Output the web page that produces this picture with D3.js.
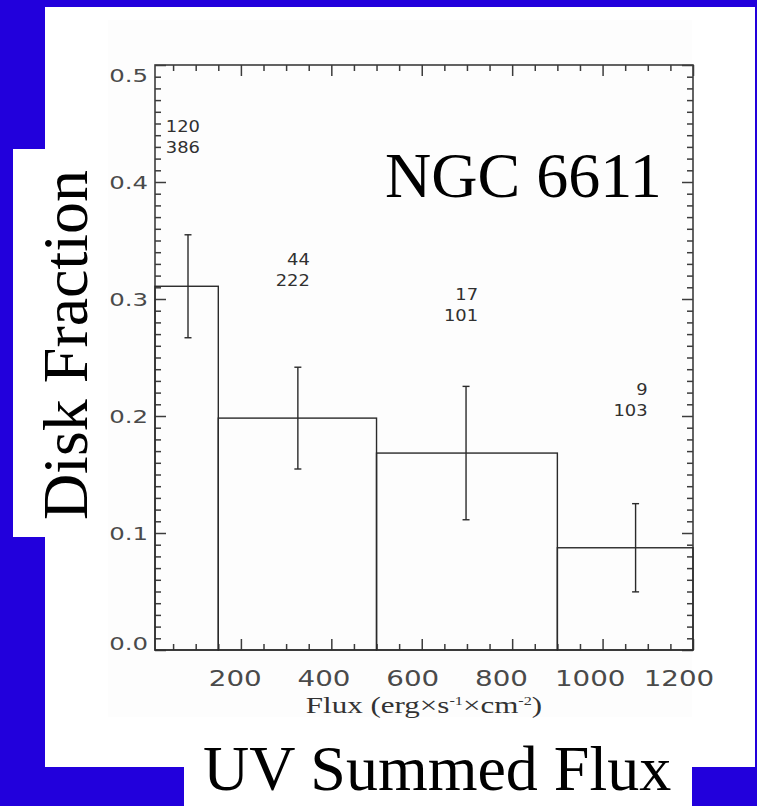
<!DOCTYPE html>
<html>
<head>
<meta charset="utf-8">
<script src="https://cdn.jsdelivr.net/npm/d3@7"></script>
<style>
  html, body { margin: 0; padding: 0; background: #2200dc; }
  svg { display: block; }
</style>
</head>
<body>
<svg id="chart" width="757" height="806"></svg>
<script>
// Flux bins (erg s^-1 cm^-2) and disk counts per bin
const binLo = [10, 150, 500, 900];
const binHi = [150, 500, 900, 1200];
const diskCounts = [120, 44, 17, 9];
const totalCounts = [386, 222, 101, 103];
const meanFlux = [83, 326, 698, 1073];
const fracErr = [0.044, 0.0435, 0.057, 0.0377];
// height (in disk-fraction units) of the count annotations above each bin
const annotLevel = [0.443, 0.329, 0.299, 0.218];

const xMajor = [200, 400, 600, 800, 1000, 1200];
const yMajor = [0.0, 0.1, 0.2, 0.3, 0.4, 0.5];

const fraction = diskCounts.map((d, i) => d / totalCounts[i]);

const svg = d3.select("#chart");
const W = 757, H = 806;

// slide background and panels
svg.append("rect").attr("width", W).attr("height", H).attr("fill", "#2200dc");
svg.append("rect").attr("x", 45).attr("y", 7).attr("width", 710).attr("height", 760).attr("fill", "#ffffff");
svg.append("rect").attr("x", 108).attr("y", 20).attr("width", 584).attr("height", 697).attr("fill", "#fdfdfd");
svg.append("rect").attr("x", 13).attr("y", 149).attr("width", 95).attr("height", 388).attr("fill", "#ffffff");
svg.append("rect").attr("x", 184).attr("y", 717).attr("width", 508).attr("height", 89).attr("fill", "#ffffff");

const pLeft = 155, pRight = 693, pTop = 65, pBottom = 650;
const x = d3.scaleLinear().domain([10, 1200]).range([pLeft, pRight]);
const y = d3.scaleLinear().domain([0, 0.5]).range([pBottom, pTop]);

const axisColor = "#3c3c3c";
const plot = svg.append("g");

const xMinor = d3.range(50, 1200, 50).filter(v => !xMajor.includes(v));
const yMinor = d3.range(1, 50).map(v => v / 100).filter(v => Math.round(v * 100) % 10 !== 0);

function styleAxis(g) {
  g.select(".domain").remove();
  g.selectAll("line").attr("stroke", axisColor).attr("stroke-width", 1.5);
  g.selectAll("text").remove();
}

// inward ticks on all four sides
plot.append("g").attr("transform", `translate(0,${pBottom})`)
  .call(d3.axisBottom(x).tickValues(xMinor).tickSize(-6).tickFormat("")).call(styleAxis);
plot.append("g").attr("transform", `translate(0,${pBottom})`)
  .call(d3.axisBottom(x).tickValues(xMajor).tickSize(-11).tickFormat("")).call(styleAxis);
plot.append("g").attr("transform", `translate(0,${pTop})`)
  .call(d3.axisTop(x).tickValues(xMinor).tickSize(-6).tickFormat("")).call(styleAxis);
plot.append("g").attr("transform", `translate(0,${pTop})`)
  .call(d3.axisTop(x).tickValues(xMajor).tickSize(-11).tickFormat("")).call(styleAxis);
plot.append("g").attr("transform", `translate(${pLeft},0)`)
  .call(d3.axisLeft(y).tickValues(yMinor).tickSize(-6).tickFormat("")).call(styleAxis);
plot.append("g").attr("transform", `translate(${pLeft},0)`)
  .call(d3.axisLeft(y).tickValues(yMajor).tickSize(-11).tickFormat("")).call(styleAxis);
plot.append("g").attr("transform", `translate(${pRight},0)`)
  .call(d3.axisRight(y).tickValues(yMinor).tickSize(-6).tickFormat("")).call(styleAxis);
plot.append("g").attr("transform", `translate(${pRight},0)`)
  .call(d3.axisRight(y).tickValues(yMajor).tickSize(-11).tickFormat("")).call(styleAxis);

// frame
plot.append("rect").attr("x", pLeft).attr("y", pTop)
  .attr("width", pRight - pLeft).attr("height", pBottom - pTop)
  .attr("fill", "none").attr("stroke", axisColor).attr("stroke-width", 1.6);

// tick labels (the plot's lettering is wide, so it is stretched horizontally)
const stretch = 1.32;
plot.append("g").selectAll("text").data(xMajor).join("text")
  .attr("transform", v => `translate(${x(v) - (4 + v / 120)},686) scale(${stretch},1)`)
  .attr("text-anchor", "middle")
  .attr("font-family", "DejaVu Sans")
  .attr("font-size", 21)
  .attr("fill", "#4a4a4a")
  .text(v => v);

plot.append("g").selectAll("text").data(yMajor).join("text")
  .attr("transform", v => `translate(148,${Math.max(pTop + 10, Math.min(pBottom - 7, y(v))) + 6.8}) scale(${stretch},1)`)
  .attr("text-anchor", "end")
  .attr("font-family", "DejaVu Sans")
  .attr("font-size", 18.5)
  .attr("fill", "#4a4a4a")
  .text(v => v.toFixed(1));

// axis title
const xt = plot.append("text")
  .attr("transform", `translate(424,713) scale(1.35,1)`)
  .attr("text-anchor", "middle")
  .attr("font-family", "Liberation Serif")
  .attr("font-size", 23)
  .attr("fill", "#333333");
xt.append("tspan").text("Flux (erg×s");
xt.append("tspan").attr("font-size", 12).attr("dy", -8).text("-1");
xt.append("tspan").attr("dy", 8).text("×cm");
xt.append("tspan").attr("font-size", 12).attr("dy", -8).text("-2");
xt.append("tspan").attr("dy", 8).text(")");

// histogram boxes
const bins = binLo.map((lo, i) => ({ lo, hi: binHi[i], f: fraction[i], m: meanFlux[i], e: fracErr[i], d: diskCounts[i], n: totalCounts[i], a: annotLevel[i] }));
const lineColor = "#2a2a2a";
plot.append("g").selectAll("rect").data(bins).join("rect")
  .attr("x", d => x(d.lo))
  .attr("y", d => y(d.f))
  .attr("width", d => x(d.hi) - x(d.lo))
  .attr("height", d => y(0) - y(d.f))
  .attr("fill", "none")
  .attr("stroke", lineColor)
  .attr("stroke-width", 1.4);

// error bars
const eb = plot.append("g").attr("stroke", lineColor).attr("stroke-width", 1.4);
eb.selectAll("line.v").data(bins).join("line").attr("class", "v")
  .attr("x1", d => x(d.m)).attr("x2", d => x(d.m))
  .attr("y1", d => y(d.f + d.e)).attr("y2", d => y(d.f - d.e));
eb.selectAll("line.t").data(bins).join("line").attr("class", "t")
  .attr("x1", d => x(d.m) - 3.5).attr("x2", d => x(d.m) + 3.5)
  .attr("y1", d => y(d.f + d.e)).attr("y2", d => y(d.f + d.e));
eb.selectAll("line.b").data(bins).join("line").attr("class", "b")
  .attr("x1", d => x(d.m) - 3.5).attr("x2", d => x(d.m) + 3.5)
  .attr("y1", d => y(d.f - d.e)).attr("y2", d => y(d.f - d.e));

// count annotations: disk stars over total stars in each bin
const ann = plot.append("g")
  .attr("font-family", "DejaVu Sans")
  .attr("font-size", 16)
  .attr("fill", "#303030")
  .attr("text-anchor", "end");
ann.selectAll("text.d").data(bins).join("text").attr("class", "d")
  .attr("transform", d => `translate(${x(d.m) + 12},${y(d.a)}) scale(1.12,1)`)
  .text(d => d.d);
ann.selectAll("text.n").data(bins).join("text").attr("class", "n")
  .attr("transform", d => `translate(${x(d.m) + 12},${y(d.a) + 21}) scale(1.12,1)`)
  .text(d => d.n);

// slide titles
svg.append("text").attr("x", 385).attr("y", 197)
  .attr("font-family", "Liberation Serif").attr("font-size", 64).attr("fill", "#000")
  .text("NGC 6611");
svg.append("text").attr("transform", "translate(87,345) rotate(-90)")
  .attr("text-anchor", "middle")
  .attr("font-family", "Liberation Serif").attr("font-size", 64).attr("fill", "#000")
  .text("Disk Fraction");
svg.append("text").attr("x", 203).attr("y", 790)
  .attr("font-family", "Liberation Serif").attr("font-size", 64).attr("fill", "#000")
  .text("UV Summed Flux");
</script>
</body>
</html>
